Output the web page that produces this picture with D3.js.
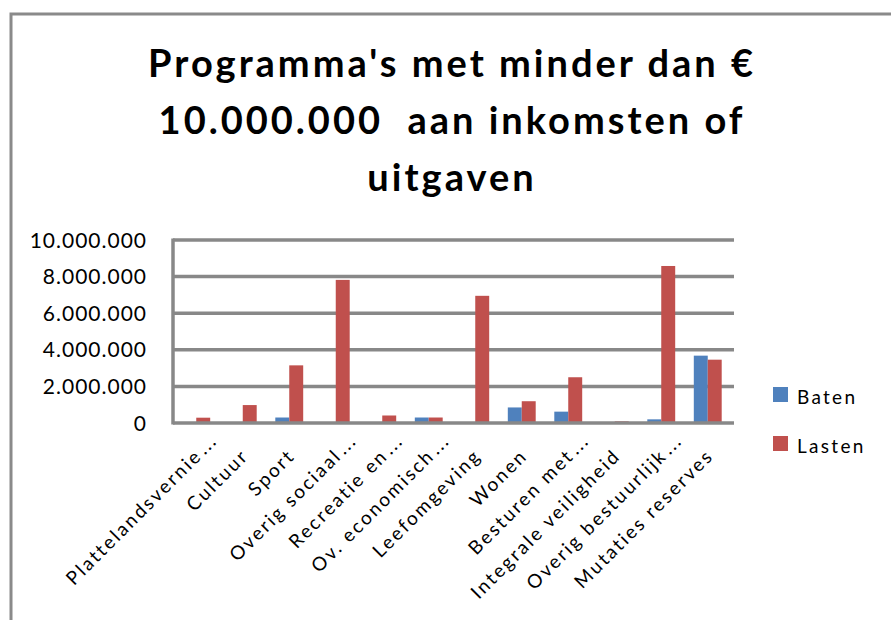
<!DOCTYPE html>
<html>
<head>
<meta charset="utf-8">
<script src="https://cdn.jsdelivr.net/npm/d3@7"></script>
<style>
  html, body { margin: 0; padding: 0; background: #fff; }
  svg { display: block; font-family: Lato, "Open Sans", sans-serif; }
</style>
</head>
<body>
<div class="viz"></div>
<script>
// Data
const categories = [
  "Plattelandsvernie...",
  "Cultuur",
  "Sport",
  "Overig sociaal...",
  "Recreatie en...",
  "Ov. economisch...",
  "Leefomgeving",
  "Wonen",
  "Besturen met...",
  "Integrale veiligheid",
  "Overig bestuurlijk...",
  "Mutaties reserves",
];
const seriesNames = ["Baten", "Lasten"];
const baten = [0, 50000, 300000, 50000, 50000, 300000, 50000, 850000, 620000, 0, 200000, 3680000];
const lasten = [290000, 980000, 3150000, 7820000, 410000, 300000, 6950000, 1190000, 2500000, 90000, 8580000, 3460000];
const yTicks = [0, 2000000, 4000000, 6000000, 8000000, 10000000];
const titleLines = ["Programma's met minder dan €", "10.000.000  aan inkomsten of", "uitgaven"];

const seriesColors = { Baten: "#4f81bd", Lasten: "#c0504d" };
const gridColor = "#888888";

const totalWidth = 891;
const totalHeight = 620;
const plot = { left: 173, right: 731, top: 240, bottom: 423 };

const svg = d3
  .select(".viz")
  .append("svg")
  .attr("width", totalWidth)
  .attr("height", totalHeight);

// Outer chart frame (runs past the picture on right and bottom)
svg.append("path")
  .attr("d", `M11,${totalHeight + 5} L11,14 L${totalWidth + 5},14`)
  .attr("fill", "none")
  .attr("stroke", "#8a8a8a")
  .attr("stroke-width", 3);

// Title
svg.append("text")
  .attr("text-anchor", "middle")
  .attr("font-weight", "bold")
  .style("font-size", "38px")
  .style("letter-spacing", "3px")
  .style("white-space", "pre")
  .attr("fill", "#000")
  .selectAll("tspan")
  .data(titleLines)
  .enter()
  .append("tspan")
  .attr("x", 452)
  .attr("y", (d, i) => 77 + i * 57)
  .text((d) => d);

// Scales
const x = d3
  .scaleBand()
  .domain(categories)
  .range([plot.left, plot.right])
  .paddingInner(0.4)
  .paddingOuter(0.2);

const xSub = d3.scaleBand().domain(seriesNames).range([0, x.bandwidth()]);

const y = d3.scaleLinear().domain([0, 10000000]).range([plot.bottom, plot.top]);

const nl = d3.formatLocale({ decimal: ",", thousands: ".", grouping: [3], currency: ["€ ", ""] });
const fmt = nl.format(",d");

// Gridlines
svg.append("g")
  .selectAll("line")
  .data(yTicks.slice(1))
  .enter()
  .append("line")
  .attr("x1", plot.left)
  .attr("x2", plot.right + 3)
  .attr("y1", (d) => y(d))
  .attr("y2", (d) => y(d))
  .attr("stroke", gridColor)
  .attr("stroke-width", 3.5);

// Y tick labels
svg.append("g")
  .selectAll("text")
  .data(yTicks)
  .enter()
  .append("text")
  .attr("x", 147)
  .attr("y", (d) => y(d))
  .attr("dy", "0.36em")
  .attr("text-anchor", "end")
  .style("font-size", "21px")
  .style("letter-spacing", "1px")
  .attr("fill", "#000")
  .text((d) => fmt(d));

// Bars
const rows = categories.map((c, i) => ({ cat: c, Baten: baten[i], Lasten: lasten[i] }));

const groups = svg.append("g")
  .selectAll("g")
  .data(rows)
  .enter()
  .append("g")
  .attr("transform", (d) => `translate(${x(d.cat)},0)`);

groups.selectAll("rect")
  .data((d) => seriesNames.map((s) => ({ s, v: d[s] })))
  .enter()
  .append("rect")
  .attr("x", (d) => xSub(d.s))
  .attr("width", xSub.bandwidth())
  .attr("y", (d) => y(d.v))
  .attr("height", (d) => y(0) - y(d.v))
  .attr("fill", (d) => seriesColors[d.s]);

// Axis lines
svg.append("line")
  .attr("x1", plot.left)
  .attr("x2", plot.left)
  .attr("y1", plot.top - 1.5)
  .attr("y2", plot.bottom + 1.5)
  .attr("stroke", gridColor)
  .attr("stroke-width", 3.5);

svg.append("line")
  .attr("x1", plot.left)
  .attr("x2", plot.right + 3)
  .attr("y1", plot.bottom)
  .attr("y2", plot.bottom)
  .attr("stroke", gridColor)
  .attr("stroke-width", 3.5);

// X labels, rotated -45
const labels = svg.append("g")
  .selectAll("g")
  .data(categories)
  .enter()
  .append("g")
  .attr("transform", (d) => `translate(${x(d) + x.bandwidth() / 2 + 7},457) rotate(-45)`);

labels.append("text")
  .attr("text-anchor", "end")
  .style("font-size", "19px")
  .style("letter-spacing", "2.3px")
  .attr("fill", "#000")
  .text((d) => d.replace("...", ""));

labels.filter((d) => d.endsWith("..."))
  .append("text")
  .attr("x", 2)
  .style("font-size", "19px")
  .style("letter-spacing", "2px")
  .attr("fill", "#000")
  .text("...");

// Legend
const legend = svg.append("g")
  .selectAll("g")
  .data(seriesNames)
  .enter()
  .append("g")
  .attr("transform", (d, i) => `translate(773,${387 + i * 49})`);

legend.append("rect")
  .attr("width", 15)
  .attr("height", 15)
  .attr("fill", (d) => seriesColors[d]);

legend.append("text")
  .attr("x", 24)
  .attr("y", 17)
  .style("font-size", "19px")
  .style("letter-spacing", "2.3px")
  .attr("fill", "#000")
  .text((d) => d);
</script>
</body>
</html>
